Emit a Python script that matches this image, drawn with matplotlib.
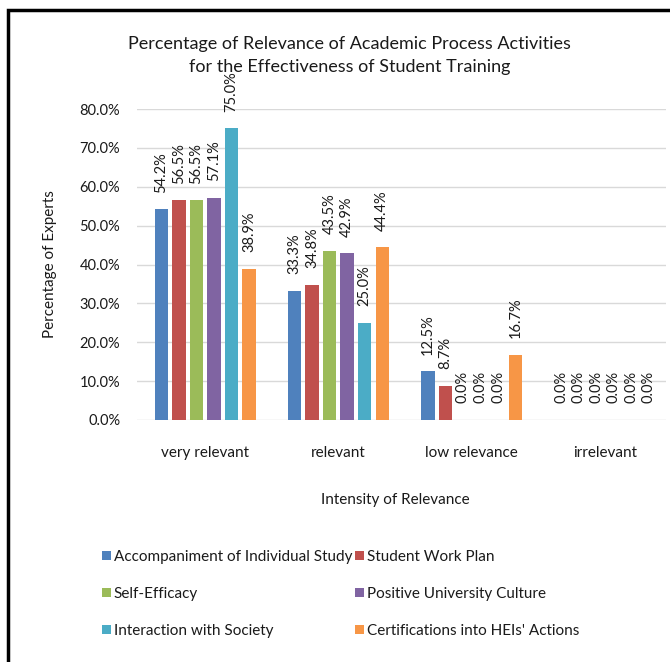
import numpy as np
import matplotlib.pyplot as plt
from matplotlib.patches import Rectangle

plt.rcParams['font.family'] = ['Lato', 'DejaVu Sans']

categories = ['very relevant', 'relevant', 'low relevance', 'irrelevant']
series_names = [
    'Accompaniment of Individual Study',
    'Student Work Plan',
    'Self-Efficacy',
    'Positive University Culture',
    'Interaction with Society',
    "Certifications into HEIs' Actions",
]
accompaniment = [54.2, 33.3, 12.5, 0.0]
work_plan = [56.5, 34.8, 8.7, 0.0]
self_efficacy = [56.5, 43.5, 0.0, 0.0]
university_culture = [57.1, 42.9, 0.0, 0.0]
society = [75.0, 25.0, 0.0, 0.0]
certifications = [38.9, 44.4, 16.7, 0.0]
series_values = [accompaniment, work_plan, self_efficacy,
                 university_culture, society, certifications]
colors = ['#4F81BD', '#C0504D', '#9BBB59', '#8064A2', '#4BACC6', '#F79646']
yticks = [0, 10, 20, 30, 40, 50, 60, 70, 80]
txt = '#1a1a1a'

fig = plt.figure(figsize=(6.70, 6.62), dpi=100)
ax = fig.add_axes([0.2045, 0.3656, 0.79, 0.4697])

x = np.arange(len(categories))
step = 0.1316
width = 0.1015
handles = []
for i, (name, vals, col) in enumerate(zip(series_names, series_values, colors)):
    pos = x + (i - 2.5) * step
    bars = ax.bar(pos, vals, width, color=col, label=name, zorder=3)
    handles.append(bars)
    for xp, v in zip(pos, vals):
        ax.annotate(f'{v:.1f}%', (xp, v), xytext=(0, 12),
                    textcoords='offset points', rotation=90,
                    ha='center', va='bottom', fontsize=10.5, color=txt,
                    annotation_clip=False)

ax.set_xlim(-0.511, 3.46)
ax.set_ylim(0, 80)
ax.set_yticks(yticks)
ax.set_yticklabels([f'{t:.1f}%' for t in yticks], fontsize=10.5, color=txt)
ax.set_xticks(x)
ax.set_xticklabels(categories, fontsize=11, color=txt)
ax.tick_params(axis='both', length=0)
ax.tick_params(axis='x', pad=19)
ax.tick_params(axis='y', pad=12)
ax.grid(axis='y', color='#d9d9d9', linewidth=1, zorder=0)
for s in ax.spines.values():
    s.set_visible(False)

ax.set_ylabel('Percentage of Experts', fontsize=11, color=txt, labelpad=16)
ax.set_xlabel('Intensity of Relevance', fontsize=11, color=txt)
ax.xaxis.set_label_coords(0.488, -0.235)

fig.text(0.522, 0.934, 'Percentage of Relevance of Academic Process Activities',
         ha='center', va='center', fontsize=13, color=txt)
fig.text(0.522, 0.899, 'for the Effectiveness of Student Training',
         ha='center', va='center', fontsize=13, color=txt)

# legend is filled column by column, so reorder to read row by row
order = [0, 2, 4, 1, 3, 5]
fig.legend([handles[k] for k in order], [series_names[k] for k in order],
           ncol=2, loc='upper left', bbox_to_anchor=(0.131, 0.19),
           frameon=False, fontsize=11, handlelength=0.6, handleheight=0.6,
           handletextpad=0.2, columnspacing=0.15, labelspacing=1.5,
           labelcolor=txt)

# black frame around the chart area
fig.patches.append(Rectangle((8 / 670, -0.05), 1.1, 1.05 - 10 / 662,
                             transform=fig.transFigure, fill=False,
                             edgecolor='black', linewidth=2.5))

fig.savefig('out.png', dpi=100, facecolor='white')
